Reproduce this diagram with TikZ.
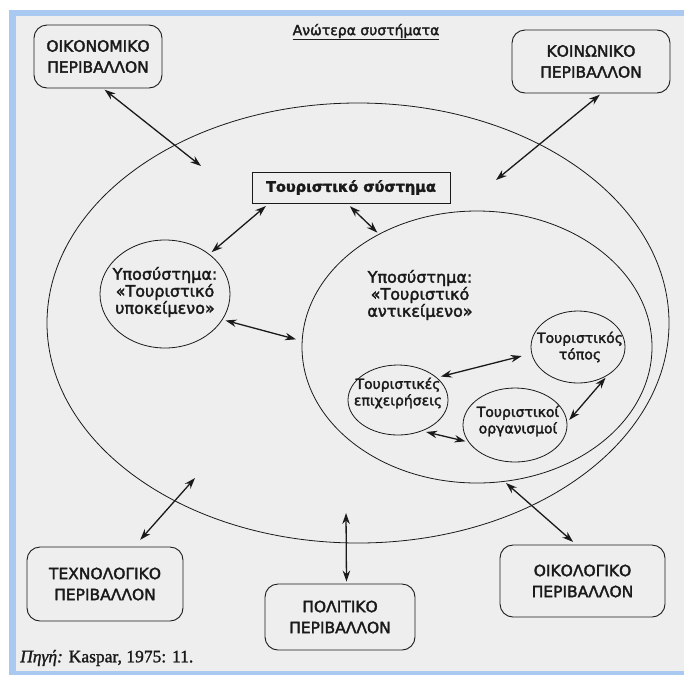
\documentclass[tikz,border=0pt]{standalone}
\usepackage{fontspec}
\setmainfont{DejaVu Sans}[FakeBold=2.2]
\newfontfamily\srcfont{Liberation Serif}[FakeBold=1.4]
\usetikzlibrary{shapes.geometric,arrows.meta}

\definecolor{paper}{HTML}{EEEEEE}
\definecolor{frameblue}{HTML}{A9C9F0}
\definecolor{ink}{HTML}{1A1A1A}

\tikzset{
  envbox/.style={draw=ink, line width=0.9pt, rounded corners=13pt, inner sep=0pt,
    align=center, text=ink, font=\fontsize{15.5}{21}\selectfont},
  sysbox/.style={draw=ink, line width=0.9pt, inner sep=0pt, text=ink,
    font=\bfseries\fontsize{14.5}{16}\selectfont},
  ring/.style={draw=ink, line width=0.8pt, ellipse, inner sep=0pt},
  lbl/.style={align=center, inner sep=0pt, text=ink},
  biglbl/.style={lbl, font=\fontsize{16}{17}\selectfont},
  smalllbl/.style={lbl, font=\fontsize{14}{16.5}\selectfont},
  arr/.style={draw=ink, line width=1.3pt,
    {Stealth[length=11pt,width=7.5pt]}-{Stealth[length=11pt,width=7.5pt]}},
}

\begin{document}
\begin{tikzpicture}[x=1pt,y=-1pt]
\useasboundingbox (0,0) rectangle (684,675);

% page and the light blue frame
\fill[white] (0,0) rectangle (684,675);
\fill[paper] (9,10) rectangle (684,675);
\fill[frameblue] (9,10) rectangle (16,675);
\fill[frameblue] (9,10) rectangle (684,16);
\fill[frameblue] (9,671) rectangle (684,675);

% nested systems
\node[ring, minimum width=622pt, minimum height=440pt] (outer) at (358,323) {};
\node[ring, minimum width=350pt, minimum height=272pt] (obj) at (477,347) {};
\node[ring, minimum width=130pt, minimum height=108pt] (subj) at (165,294) {};
\node[ring, minimum width=94pt, minimum height=72pt] (topos) at (578,347) {};
\node[ring, minimum width=100pt, minimum height=70pt] (epix) at (398,400) {};
\node[ring, minimum width=104pt, minimum height=74pt] (org) at (515,425) {};

% labels of the subsystems
\node[biglbl] (subjT) at (165,292) {Υποσύστημα:\\«Τουριστικό\\υποκείμενο»};
\node[biglbl] (objT) at (420,295) {Υποσύστημα:\\«Τουριστικό\\αντικείμενο»};
\node[smalllbl] (toposT) at (580,347) {Τουριστικός\\τόπος};
\node[smalllbl] (epixT) at (398,393) {Τουριστικές\\επιχειρήσεις};
\node[smalllbl] (orgT) at (518,421) {Τουριστικοί\\οργανισμοί};

% central box
\node[sysbox, minimum width=198pt, minimum height=31pt] (tsys) at (351,187.5) {Τουριστικό σύστημα};

% environments
\node[envbox, minimum width=128pt, minimum height=63pt] (oik) at (98,56.5) {ΟΙΚΟΝΟΜΙΚΟ\\ΠΕΡΙΒΑΛΛΟΝ};
\node[envbox, minimum width=158pt, minimum height=63pt] (koin) at (591,61.5) {ΚΟΙΝΩΝΙΚΟ\\ΠΕΡΙΒΑΛΛΟΝ};
\node[envbox, minimum width=156pt, minimum height=74pt] (tech) at (105,584) {ΤΕΧΝΟΛΟΓΙΚΟ\\ΠΕΡΙΒΑΛΛΟΝ};
\node[envbox, minimum width=165pt, minimum height=72pt] (oikol) at (582.5,581) {ΟΙΚΟΛΟΓΙΚΟ\\ΠΕΡΙΒΑΛΛΟΝ};
\node[envbox, minimum width=150pt, minimum height=66pt] (pol) at (340,617) {ΠΟΛΙΤΙΚΟ\\ΠΕΡΙΒΑΛΛΟΝ};

% heading and source
\node[lbl, font=\fontsize{14}{16}\selectfont] (title) at (366,32) {\underline{Ανώτερα συστήματα}};
\node[lbl, anchor=west, font=\srcfont\fontsize{17.5}{19}\selectfont] (src) at (20,658)
  {\textit{Πηγή:} Kaspar, 1975: 11.};

% arrow ends lying inside the outer system
\coordinate (oikIn) at (201,166);
\coordinate (koinIn) at (496,180);
\coordinate (techIn) at (195,478);
\coordinate (polIn) at (346,513);
\coordinate (oikolIn) at (506,483);

% links with the environments
\draw[arr, shorten <=2pt] (oik.-81.5) -- (oikIn);
\draw[arr, shorten <=2pt] (koin.-72) -- (koinIn);
\draw[arr, shorten >=9pt] (techIn) -- (tech.52);
\draw[arr, shorten >=2pt] (polIn) -- (pol.79);
\draw[arr, shorten >=4pt] (oikolIn) -- (oikol.100);

% links inside the tourist system
\draw[arr, shorten <=4pt, shorten >=3pt] (tsys.-169) -- (subj.42);
\draw[arr, shorten <=4pt, shorten >=2pt] (tsys.-104.5) -- (obj.131);
\draw[arr, shorten <=3pt, shorten >=6pt] (subj.-24) -- (obj.178.8);
\draw[arr, shorten <=10pt, shorten >=4pt] (topos.188) -- (epix.30);
\draw[arr, shorten <=3pt, shorten >=3pt] (topos.-44) -- (org.3);
\draw[arr, shorten <=4pt, shorten >=3pt] (epix.-52) -- (org.200);
\end{tikzpicture}
\end{document}
